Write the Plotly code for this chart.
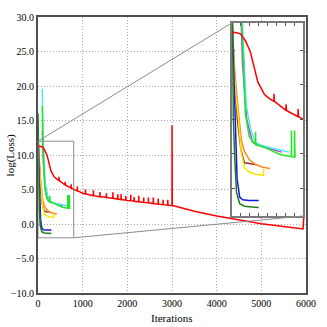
import plotly.graph_objects as go

# loss curves (iterations, log loss)
red_iter = [0, 40, 95, 150, 205, 255, 290, 365, 420, 800, 1000, 1500, 2000, 2500,
            3100, 3500, 4000, 4500, 5000, 5500, 5935, 5950]
red_loss = [11.3, 11.3, 11.2, 10.7, 9.9, 8.6, 7.7, 6.8, 6.5, 5.0, 4.45, 3.9, 3.42, 3.05,
            2.55, 1.85, 1.15, 0.55, 0.05, -0.35, -0.72, 1.0]

# periodic spikes on the red curve
spike_iter = [470, 605, 740, 880, 1060, 1240, 1385, 1530, 1675, 1785, 1860, 1965, 2075,
              2150, 2255, 2365, 2470, 2580, 2690, 2800, 2905, 3000]
spike_base = [6.3, 5.65, 5.2, 4.8, 4.35, 4.1, 3.95, 3.85, 3.72, 3.62, 3.55, 3.45, 3.38,
              3.3, 3.22, 3.13, 3.05, 2.97, 2.88, 2.8, 2.72, 2.68]
spike_top = [6.85, 6.1, 5.75, 5.45, 5.0, 4.9, 4.65, 4.45, 4.6, 4.3, 4.35, 4.05, 4.25,
             3.9, 4.1, 3.85, 3.85, 3.85, 3.7, 3.5, 3.5, 14.3]

cyan_iter = [96, 115, 160, 211, 265, 335, 442, 549, 639]
cyan_loss = [19.6, 12.0, 6.0, 4.21, 3.32, 3.11, 2.92, 2.75, 2.63]

magenta_iter = [96, 118, 165, 228, 335, 407, 514, 557]
magenta_loss = [13.5, 9.0, 5.0, 3.39, 3.04, 2.92, 2.72, 2.63]

lime_iter = [96, 110, 150, 193, 246, 262, 264, 267, 332, 439, 546, 666, 667, 668,
             700, 701, 702, 707]
lime_loss = [17.1, 12.0, 5.4, 3.77, 3.27, 3.2, 4.1, 3.15, 3.06, 2.77, 2.44, 2.3, 4.2, 2.3,
             2.27, 4.2, 2.27, 2.26]

orange_iter = [0, 20, 50, 75, 90, 104, 139, 193, 265, 335, 425]
orange_loss = [12.6, 9.5, 7.0, 5.4, 4.1, 3.5, 2.68, 2.09, 1.73, 1.55, 1.45]

brown_iter = [0, 25, 60, 100, 139, 200, 265]
brown_loss = [12.3, 8.5, 5.0, 2.8, 1.85, 1.78, 1.73]

yellow_iter = [0, 15, 40, 67, 104, 139, 193, 265, 353, 354]
yellow_loss = [12.8, 9.5, 6.8, 5.4, 2.56, 1.5, 1.19, 1.02, 0.95, 1.43]

blue_iter = [0, 20, 40, 57, 86, 121, 193, 300]
blue_loss = [12.5, 8.0, 3.0, 0.67, -0.63, -0.82, -0.87, -0.87]

dkgreen_iter = [0, 5, 14, 30, 50, 86, 139, 228, 300]
dkgreen_loss = [16.0, 12.0, 5.2, 2.3, -0.28, -1.11, -1.29, -1.34, -1.39]

X_RANGE = [0, 6000]
Y_RANGE = [-10, 30]
ZOOM_X = [0, 800]
ZOOM_Y = [-2, 12]
INSET_X = [0.724, 0.99]
INSET_Y = [0.279, 0.979]
FONT = "Liberation Serif"

# merge spikes into the red curve
pts = list(zip(red_iter, red_loss))
for x, b, t in zip(spike_iter, spike_base, spike_top):
    pts += [(x, b), (x + 1, t), (x + 6, b)]
pts.sort(key=lambda p: p[0])
red_x = [p[0] for p in pts]
red_y = [p[1] for p in pts]

series = [
    (brown_iter, brown_loss, '#993333'),
    (orange_iter, orange_loss, '#ff8a1c'),
    (yellow_iter, yellow_loss, '#f7ea00'),
    (magenta_iter, magenta_loss, '#c040e0'),
    (cyan_iter, cyan_loss, '#4ce8f5'),
    (lime_iter, lime_loss, '#22e622'),
    (blue_iter, blue_loss, '#1515e8'),
    (dkgreen_iter, dkgreen_loss, '#1b7d1b'),
    (red_x, red_y, '#ff0000'),
]

fig = go.Figure()
for xs, ys, col in series:
    fig.add_trace(go.Scatter(x=xs, y=ys, mode='lines', line=dict(color=col, width=1.5),
                             showlegend=False, xaxis='x', yaxis='y'))
    fig.add_trace(go.Scatter(x=xs, y=ys, mode='lines', line=dict(color=col, width=1.5),
                             showlegend=False, xaxis='x2', yaxis='y2'))


def px(x):
    return (x - X_RANGE[0]) / (X_RANGE[1] - X_RANGE[0])


def py(y):
    return (y - Y_RANGE[0]) / (Y_RANGE[1] - Y_RANGE[0])


shapes = [
    dict(type='rect', xref='x', yref='y', x0=ZOOM_X[0], x1=ZOOM_X[1], y0=ZOOM_Y[0], y1=ZOOM_Y[1],
         line=dict(color='#8c8c8c', width=1), layer='above'),
    dict(type='line', xref='paper', yref='paper', x0=px(ZOOM_X[0]), y0=py(ZOOM_Y[1]),
         x1=INSET_X[0], y1=INSET_Y[1], line=dict(color='#8c8c8c', width=1)),
    dict(type='line', xref='paper', yref='paper', x0=px(ZOOM_X[1]), y0=py(ZOOM_Y[0]),
         x1=INSET_X[1], y1=INSET_Y[0], line=dict(color='#8c8c8c', width=1)),
]

grid = dict(showgrid=True, gridcolor='#a8a8a8', griddash='1px,2px', gridwidth=1, zeroline=False,
            showline=True, linecolor='#505050', linewidth=2, mirror=True, ticks='',
            tickfont=dict(family=FONT, size=10, color='black'))

inset = dict(showticklabels=False, showgrid=False, zeroline=False, showline=True,
             linecolor='#7a7a7a', linewidth=2, mirror='ticks', ticks='inside',
             ticklen=3, tickcolor='#555555')

fig.update_layout(
    width=327, height=327,
    margin=dict(l=36, r=15, t=11, b=34),
    paper_bgcolor='white', plot_bgcolor='white',
    xaxis=dict(range=X_RANGE, dtick=1000, tick0=0, domain=[0, 1], **grid),
    yaxis=dict(range=Y_RANGE, dtick=5, tick0=0, tickformat='.1f', domain=[0, 1], **grid),
    xaxis2=dict(range=ZOOM_X, dtick=100, tick0=0, domain=INSET_X, anchor='y2', **inset),
    yaxis2=dict(range=ZOOM_Y, dtick=2.5, tick0=0, domain=INSET_Y, anchor='x2', **inset),
    shapes=shapes,
    annotations=[
        dict(text='Iterations', xref='paper', yref='paper', x=0.5, y=-0.09, showarrow=False,
             xanchor='center', yanchor='middle', font=dict(family=FONT, size=11, color='black')),
        dict(text='log(Loss)', xref='paper', yref='paper', x=-0.103, y=0.5, showarrow=False,
             textangle=-90, xanchor='center', yanchor='middle',
             font=dict(family=FONT, size=11, color='black')),
    ],
)

# drop the default page margin so the 327px figure fills the window
fig.write_html("out.html", config={'displayModeBar': False},
               post_script="document.body.style.margin='0';")
